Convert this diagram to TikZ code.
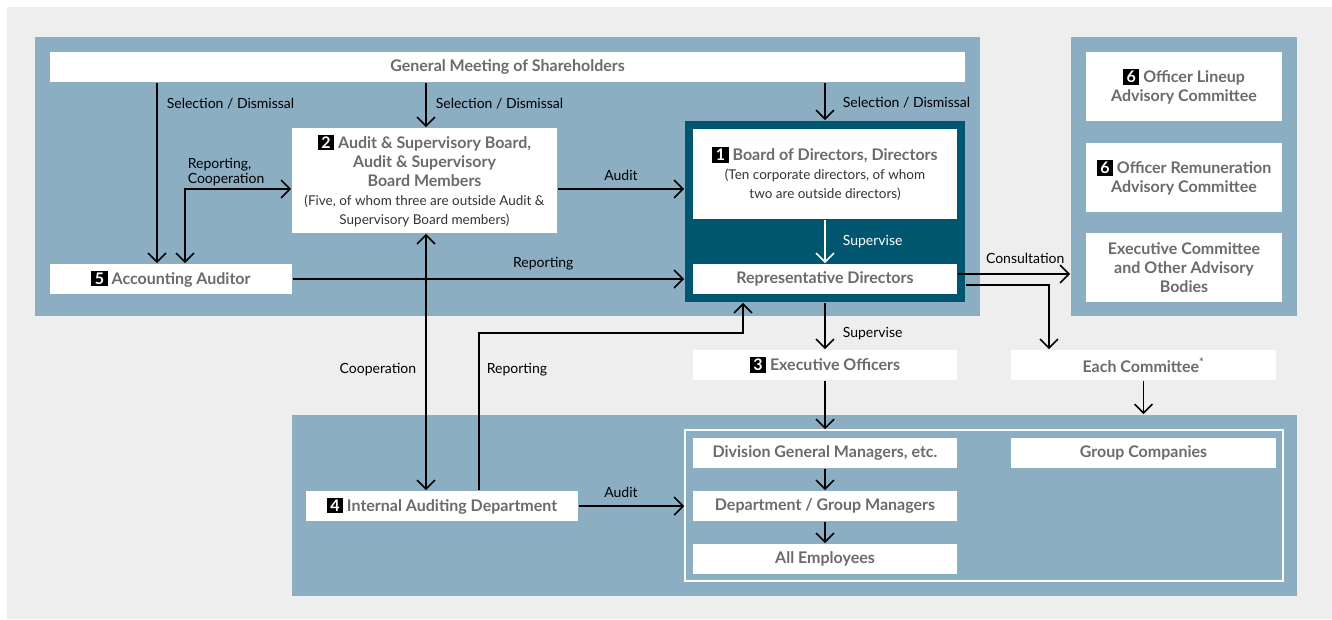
\documentclass[tikz,border=0pt]{standalone}
\usepackage{fontspec}
\setmainfont{Lato}
\usetikzlibrary{arrows.meta,positioning}
\usepackage{xcolor}

\definecolor{panelblue}{HTML}{8CAEC2}
\definecolor{boardteal}{HTML}{00566F}
\definecolor{backgray}{HTML}{EEEEEE}
\definecolor{boxgray}{HTML}{6B6B6B}

\newcommand{\badge}[1]{{\setlength{\fboxsep}{2pt}\colorbox{black}{\hspace{1.5pt}\textcolor{white}{#1}\hspace{1.5pt}}}}
\newcommand{\subtxt}{\fontsize{13.5}{17.5}\selectfont\mdseries\color{black!80}}

\begin{document}
\begin{tikzpicture}[x=1pt,y=-1pt,line width=1.6pt,
    >={Straight Barb[length=9pt,width=18pt]},
    box/.style={fill=white,text=boxgray,font=\fontsize{16}{19}\selectfont\bfseries,
      align=center,inner sep=0pt,minimum height=30pt},
    panel/.style={fill=panelblue,inner sep=0pt},
    lbl/.style={font=\fontsize{14}{15}\selectfont,text=black,inner sep=2pt}]
    \useasboundingbox (0,0) rectangle (1332,619);
    \fill[backgray] (7,7) rectangle (1332,619);

    \node[panel,minimum width=945pt,minimum height=279pt] (mgmt) at (507.5,176.5) {};
    \node[panel,minimum width=226pt,minimum height=279pt] (advisory) at (1184,176.5) {};
    \node[panel,minimum width=1005pt,minimum height=181pt] (ops) at (794.5,505.5) {};
    \node[draw=white,line width=1.5pt,inner sep=0pt,minimum width=598pt,minimum height=151pt] (frame) at (984,505.5) {};
    \node[fill=boardteal,inner sep=0pt,minimum width=280pt,minimum height=181pt] (board) at (825,211.5) {};

    \node[box,minimum width=915pt] (gms) at (507.5,67) {General Meeting of Shareholders};
    \node[box,minimum width=265pt,minimum height=105pt] (asb) at (424.5,180.5)
      {\badge{2} Audit \& Supervisory Board,\\Audit \& Supervisory\\Board Members\\
       {\subtxt (Five, of whom three are outside Audit \&}\\{\subtxt Supervisory Board members)}};
    \node[box,minimum width=264pt,minimum height=90pt] (bod) at (825,174)
      {\badge{1} Board of Directors, Directors\\{\subtxt (Ten corporate directors, of whom}\\{\subtxt two are outside directors)}};
    \node[box,minimum width=264pt] (rep) at (825,279) {Representative Directors};
    \node[box,minimum width=242pt] (acc) at (171,279) {\badge{5} Accounting Auditor};

    \node[box,minimum width=196pt,minimum height=69pt] (lineup) at (1184,86.5) {\badge{6} Officer Lineup\\Advisory Committee};
    \node[box,minimum width=196pt,minimum height=69pt] (remun) at (1184,177.5) {\badge{6} Officer Remuneration\\Advisory Committee};
    \node[box,minimum width=196pt,minimum height=69pt] (excom) at (1184,267.5) {Executive Committee\\and Other Advisory\\Bodies};

    \node[box,minimum width=264pt] (eo) at (825,365) {\badge{3} Executive Officers};
    \node[box,minimum width=265pt] (each) at (1143.5,365) {Each Committee\textsuperscript{*}};
    \node[box,minimum width=264pt] (div) at (825,453) {Division General Managers, etc.};
    \node[box,minimum width=264pt] (dept) at (825,506) {Department / Group Managers};
    \node[box,minimum width=264pt] (all) at (825,559) {All Employees};
    \node[box,minimum width=265pt] (grp) at (1143.5,453) {Group Companies};
    \node[box,minimum width=272pt] (iad) at (442,506) {\badge{4} Internal Auditing Department};

    \draw[->] (157,0 |- gms.south) -- (157,0 |- acc.north) node[lbl,pos=.115,right=7pt]{Selection / Dismissal};
    \draw[->] (426,0 |- gms.south) -- (426,0 |- asb.north) node[lbl,pos=.46,right=7pt]{Selection / Dismissal};
    \draw[->] (gms.south -| board.north) -- (board.north) node[lbl,pos=.54,right=15pt]{Selection / Dismissal};
    \draw[<->] ([xshift=14pt]acc.north) |- ([yshift=-8.5pt]asb.west) node[lbl,pos=.5,above right,align=left]{Reporting,\\Cooperation};
    \draw[->] ([yshift=-8.5pt]asb.east) -- (board.west |- 0,189) node[lbl,midway,above=6pt]{Audit};
    \draw[->] (acc.east) -- (acc.east -| board.west) node[lbl,pos=.64,above=6pt]{Reporting};
    \draw[->,white] (bod.south) -- (rep.north) node[lbl,text=white,midway,right=15pt]{Supervise};
    \draw[<->] (asb.south -| 426,0) -- (426,0 |- iad.north) node[lbl,pos=.53,left=7pt]{Cooperation};
    \draw[->] (479,0 |- iad.north) -- node[lbl,pos=.77,right=5pt]{Reporting} (479,333) -| (743,0 |- board.south);
    \draw[->] (board.south) -- (eo.north) node[lbl,pos=.67,right=15pt]{Supervise};
    \draw[->] (rep.east |- 0,274) -- (advisory.west |- 0,274) node[lbl,pos=.6,above=8pt]{Consultation};
    \draw[->] (board.east |- 0,285) -| (1049,0 |- each.north);
    \draw[->] (eo.south) -- (eo.south |- frame.north);
    \draw[->] (each.south) -- (each.south |- ops.north);
    \draw[->] (div) -- (dept);
    \draw[->] (dept) -- (all);
    \draw[->] (iad.east) -- (iad.east -| frame.west) node[lbl,pos=.4,above=6pt]{Audit};
  \end{tikzpicture}
\end{document}
